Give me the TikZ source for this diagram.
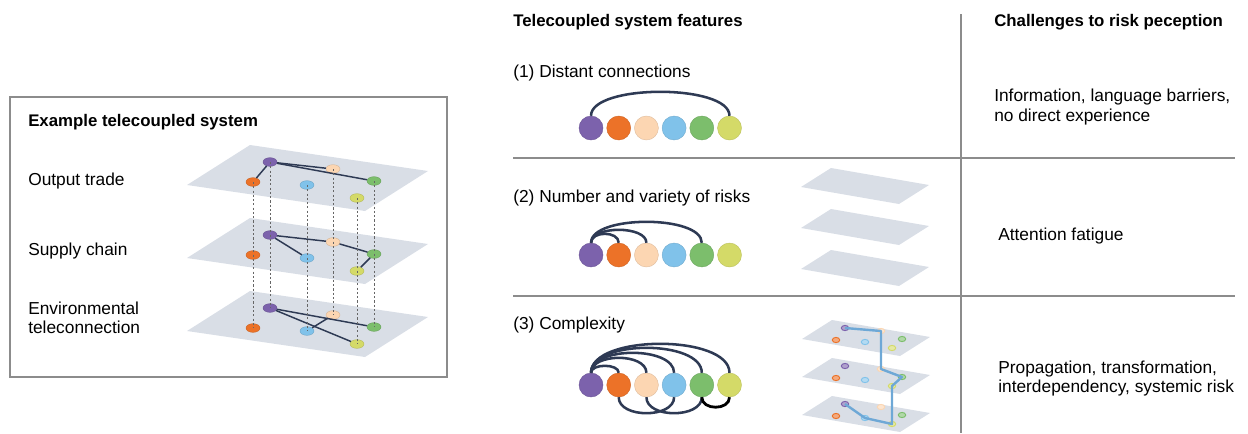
\documentclass[tikz,border=0pt]{standalone}
\usepackage{fontspec}
\setmainfont{Liberation Sans}
\usetikzlibrary{shapes.geometric}

\definecolor{cpurple}{RGB}{124,98,172}
\definecolor{corange}{RGB}{236,114,40}
\definecolor{cpeach}{RGB}{252,214,178}
\definecolor{cblue}{RGB}{128,194,234}
\definecolor{cgreen}{RGB}{124,190,108}
\definecolor{cyellow}{RGB}{212,218,104}
\definecolor{planefill}{RGB}{217,222,230}
\definecolor{navy}{RGB}{46,58,84}
\definecolor{rulegray}{RGB}{140,140,140}
\definecolor{pathblue}{RGB}{110,168,214}

\begin{document}
\begin{tikzpicture}[x=0.75pt,y=-0.75pt,
  txt/.style={anchor=base west, inner sep=0, font=\fontsize{13}{14.5}\selectfont},
  txtblock/.style={anchor=north west, inner sep=0, align=left, font=\fontsize{13}{14.5}\selectfont},
  hdr/.style={anchor=base west, inner sep=0, font=\bfseries\fontsize{12.6}{15}\selectfont},
  plane/.style={fill=planefill, draw=none},
  ldot/.style={ellipse, minimum width=10.5pt, minimum height=6.5pt, inner sep=0,
               fill=#1, draw=#1!85!black, line width=0.3pt},
  sdot/.style={ellipse, minimum width=5.6pt, minimum height=3.9pt, inner sep=0,
               fill=#1!60!white, draw=#1, line width=0.7pt},
  bigdot/.style={circle, minimum size=18pt, inner sep=0, fill=#1, draw=#1!88!black, line width=0.3pt},
  edgeln/.style={draw=navy, line width=1.1pt},
  vdash/.style={draw=black!60, line width=0.6pt, dash pattern=on 1.6pt off 1.6pt},
  arcline/.style={draw=navy, line width=1.9pt},
  rule/.style={draw=rulegray, line width=0.8pt},
  bluepath/.style={draw=pathblue, line width=1.8pt, line join=round}
]
\useasboundingbox (0,0) rectangle (1248,433);

% ---------------- example telecoupled system ----------------
\draw[draw=black!45, line width=0.8pt] (10,97) rectangle (447,377);
\node[hdr] (exhdr) at (28,126) {Example telecoupled system};
\node[txt] (lout) at (28,185) {Output trade};
\node[txt] (lsup) at (28,255) {Supply chain};
\node[txtblock] (lenv) at (28,301.5) {Environmental\\teleconnection};

\foreach \L/\d in {1/0,2/73,3/146}{
  \fill[plane] (187,185+\d) -- (250,145+\d) -- (428,171+\d) -- (365,211+\d) -- cycle;
  \node[ldot=cpurple] (p\L)  at (270,162+\d) {};
  \node[ldot=cpeach]  (pe\L) at (333,169+\d) {};
  \node[ldot=cgreen]  (g\L)  at (374,181+\d) {};
  \node[ldot=corange] (o\L)  at (253,182+\d) {};
  \node[ldot=cblue]   (b\L)  at (307,185+\d) {};
  \node[ldot=cyellow] (y\L)  at (357,198+\d) {};
}
% output trade links
\draw[edgeln] (p1) -- (o1);
\draw[edgeln] (p1) -- (pe1);
\draw[edgeln] (p1) -- (g1);
% supply chain links
\draw[edgeln] (p2) -- (pe2);
\draw[edgeln] (pe2) -- (g2);
\draw[edgeln] (p2) -- (b2);
\draw[edgeln] (g2) -- (y2);
% environmental teleconnection links
\draw[edgeln] (p3) -- (g3);
\draw[edgeln] (p3) -- (y3);
\draw[edgeln] (pe3) -- (b3);
% vertical correspondences
\foreach \n in {o,p,b,pe,y,g}{
  \draw[vdash] (\n1.center) -- (\n3.center);
}

% ---------------- table frame ----------------
\node[hdr] (fhdr) at (513,26) {Telecoupled system features};
\node[hdr] (chdr) at (994,26) {Challenges to risk peception};
\draw[rule] (961,14) -- (961,433);
\draw[rule] (513,158) -- (1235,158);
\draw[rule] (513,296) -- (1235,296);

% ---------------- (1) distant connections ----------------
\node[txt] (f1) at (513,77) {(1) Distant connections};
\foreach \c/\n [count=\i from 0] in {cpurple/a,corange/b,cpeach/c,cblue/d,cgreen/e,cyellow/f}{
  \node[bigdot=\c] (r1\n) at (591+27.7*\i,128) {};
}
\draw[arcline] (r1a.north) .. controls ([yshift=24pt]r1a.north) and ([yshift=24pt]r1f.north) .. (r1f.north);
\node[txtblock] (c1) at (994,89) {Information, language barriers,\\no direct experience};

% ---------------- (2) number and variety of risks ----------------
\node[txt] (f2) at (513,202) {(2) Number and variety of risks};
\foreach \c/\n [count=\i from 0] in {cpurple/a,corange/b,cpeach/c,cblue/d,cgreen/e,cyellow/f}{
  \node[bigdot=\c] (r2\n) at (591+27.7*\i,255) {};
}
\draw[arcline] (r2a.north) .. controls ([yshift=21pt]r2a.north) and ([yshift=21pt]r2e.north) .. (r2e.north);
\draw[arcline] (r2a.north) .. controls ([yshift=13pt]r2a.north) and ([yshift=13pt]r2c.north) .. (r2c.north);
\draw[arcline] (r2a.north) .. controls ([yshift=9pt]r2a.north) and ([yshift=9pt]r2b.north) .. (r2b.north);
\foreach \d in {0,41,82}{
  \fill[plane] (801,187+\d) -- (831,168+\d) -- (929,185+\d) -- (899,204+\d) -- cycle;
}
\node[txt] (c2) at (998,240) {Attention fatigue};

% ---------------- (3) complexity ----------------
\node[txt] (f3) at (513,329) {(3) Complexity};
\foreach \c/\n [count=\i from 0] in {cpurple/a,corange/b,cpeach/c,cblue/d,cgreen/e,cyellow/f}{
  \node[bigdot=\c] (r3\n) at (591+27.7*\i,385) {};
}
\draw[arcline] (r3a.north) .. controls ([yshift=29pt]r3a.north) and ([yshift=29pt]r3f.north) .. (r3f.north);
\draw[arcline] (r3a.north) .. controls ([yshift=25pt]r3a.north) and ([yshift=25pt]r3e.north) .. (r3e.north);
\draw[arcline] (r3a.north) .. controls ([yshift=20pt]r3a.north) and ([yshift=20pt]r3d.north) .. (r3d.north);
\draw[arcline] (r3a.north) .. controls ([yshift=15pt]r3a.north) and ([yshift=15pt]r3c.north) .. (r3c.north);
\draw[arcline] (r3a.north) .. controls ([yshift=7pt]r3a.north) and ([yshift=7pt]r3b.north) .. (r3b.north);
\draw[arcline] (r3b.south) .. controls ([yshift=-16pt]r3b.south) and ([yshift=-16pt]r3d.south) .. (r3d.south);
\draw[arcline] (r3c.south) .. controls ([yshift=-16pt]r3c.south) and ([yshift=-16pt]r3e.south) .. (r3e.south);
\draw[arcline, draw=black, line width=2.1pt] (r3e.south) .. controls ([yshift=-10pt]r3e.south) and ([yshift=-10pt]r3f.south) .. (r3f.south);

\foreach \L/\d in {1/0,2/38,3/76}{
  \fill[plane] (802,339+\d) -- (832,320+\d) -- (930,337+\d) -- (900,356+\d) -- cycle;
  \node[sdot=cpurple] (sp\L)  at (845,328+\d) {};
  \node[sdot=cpeach]  (spe\L) at (881,331+\d) {};
  \node[sdot=cgreen]  (sg\L)  at (902,339+\d) {};
  \node[sdot=corange] (so\L)  at (836,340+\d) {};
  \node[sdot=cblue]   (sb\L)  at (865,342+\d) {};
  \node[sdot=cyellow] (sy\L)  at (892,348+\d) {};
}
% cascading path through the layers
\draw[bluepath] (sp1.center) -- (spe1.center) -- (spe2.center) -- (sg2.center)
  -- (sy2.center) -- (sy3.center) -- (sb3.center) -- (sp3.center);
\node[txtblock] (c3) at (998,360.5) {Propagation, transformation,\\interdependency, systemic risk};

\end{tikzpicture}
\end{document}
